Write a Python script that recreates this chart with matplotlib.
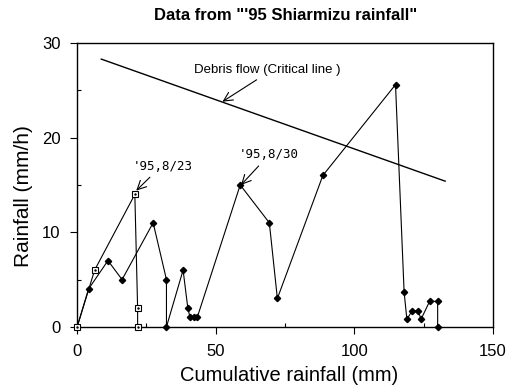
import matplotlib
matplotlib.use("Agg")
import matplotlib.pyplot as plt
from matplotlib.ticker import MultipleLocator


# --------------------------------------------------
# DATA
# --------------------------------------------------

# '95, 8/23 event (open squares)
cum_0823 = [0, 6.3, 20.8, 21.8, 21.8]
rain_0823 = [0, 6, 14, 2, 0]

# '95, 8/30 event (filled diamonds)
cum_0830 = [0, 4.1, 11.1, 16.2, 27.4, 32.2, 32.2, 38.2, 39.9, 40.7,
            42.1, 43.3, 58.8, 69.3, 72.2, 88.6, 114.8, 117.9, 118.9,
            120.8, 123.0, 124.0, 127.1, 130.0, 130.0]
rain_0830 = [0, 4, 7, 5, 11, 5, 0, 6, 2, 1,
             1, 1, 15, 11, 3, 16, 25.6, 3.7, 0.8,
             1.7, 1.7, 0.8, 2.7, 2.7, 0]

# critical line for debris flow
critical_x = [8.7, 132.7]
critical_y = [28.3, 15.4]


# --------------------------------------------------
# FIGURE
# --------------------------------------------------

plt.rcParams["font.family"] = ["Liberation Sans", "DejaVu Sans"]

fig = plt.figure(figsize=(5.11, 3.91), dpi=100)
ax = fig.add_axes([0.151, 0.164, 0.814, 0.726])

ax.plot(critical_x, critical_y, color="black", linewidth=1.0)

ax.plot(cum_0830, rain_0830, color="black", linewidth=0.8,
        marker="D", markersize=3.2, markerfacecolor="black",
        markeredgecolor="black", clip_on=False, zorder=3)

ax.plot(cum_0823, rain_0823, color="black", linewidth=0.8,
        marker="s", markersize=5, markerfacecolor="white",
        markeredgecolor="black", markeredgewidth=0.8,
        clip_on=False, zorder=4)
ax.plot(cum_0823, rain_0823, linestyle="none", marker=".",
        markersize=1.5, color="black", clip_on=False, zorder=5)


# --------------------------------------------------
# ANNOTATIONS
# --------------------------------------------------

def pijl(rel_x):
    return dict(arrowstyle="->", color="black", linewidth=0.8,
                shrinkA=2, shrinkB=0, mutation_scale=16,
                relpos=(rel_x, 0.0))


ax.annotate("Debris flow (Critical line )", xy=(52.4, 23.8),
            xytext=(42.3, 27.2), fontsize=9.5, ha="left", va="center",
            arrowprops=pijl(0.47))

ax.annotate("'95,8/23", xy=(21.3, 14.4), xytext=(31.0, 17.0),
            fontsize=9, family="DejaVu Sans Mono", ha="center",
            va="center", arrowprops=pijl(0.36))

ax.annotate("'95,8/30", xy=(59.1, 15.0), xytext=(69.0, 18.2),
            fontsize=9, family="DejaVu Sans Mono", ha="center",
            va="center", arrowprops=pijl(0.41))


# --------------------------------------------------
# AXES
# --------------------------------------------------

ax.set_xlim(0, 150)
ax.set_ylim(0, 30)

ax.xaxis.set_major_locator(MultipleLocator(50))
ax.xaxis.set_minor_locator(MultipleLocator(25))
ax.yaxis.set_major_locator(MultipleLocator(10))
ax.yaxis.set_minor_locator(MultipleLocator(5))

ax.tick_params(which="major", direction="out", length=5, width=0.8,
               labelsize=12, pad=7)
ax.tick_params(which="minor", direction="in", length=3, width=0.8)

for spine in ax.spines.values():
    spine.set_linewidth(1.0)

ax.set_xlabel("Cumulative rainfall (mm)", fontsize=14.5)
ax.set_ylabel("Rainfall (mm/h)", fontsize=15)
ax.xaxis.set_label_coords(0.51, -0.138)
ax.yaxis.set_label_coords(-0.105, 0.46)

fig.suptitle("Data from \"'95 Shiarmizu rainfall\"", fontsize=12,
             fontweight="bold", x=0.558, y=0.98)

fig.savefig("out.png", dpi=100)
plt.close(fig)
